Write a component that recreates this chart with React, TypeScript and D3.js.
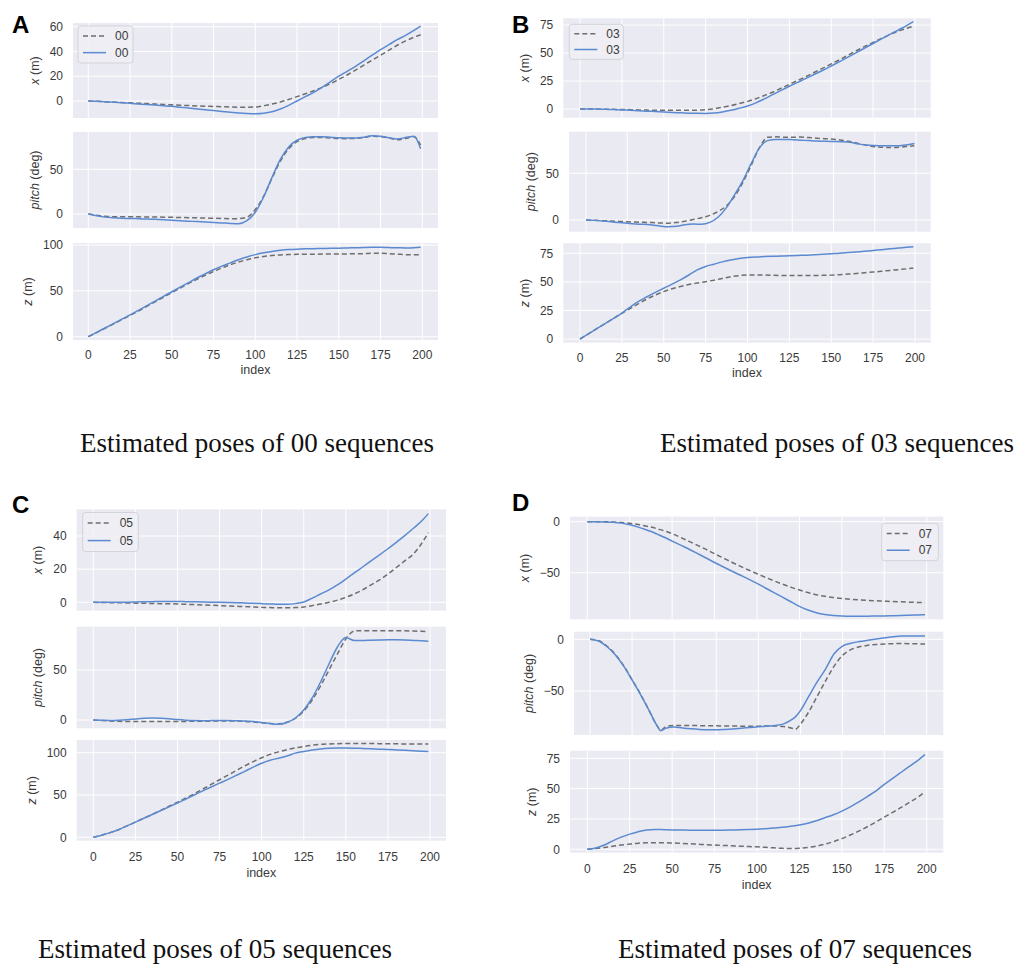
import * as d3 from "d3";

// sample index (frame number) for panels A-C
const idx = [0, 5, 10, 15, 20, 25, 30, 35, 40, 45, 50, 55, 60, 65, 70, 75, 80, 85, 90, 95, 100, 105, 110, 115, 120, 125, 130, 135, 140, 145, 150, 155, 160, 165, 170, 175, 180, 185, 190, 195, 199];
// panel D has two sharper corners, so two extra samples
const idxD = [0, 5, 10, 15, 20, 25, 30, 35, 40, 42, 45, 50, 55, 60, 65, 70, 75, 80, 85, 90, 95, 100, 105, 110, 115, 120, 122, 125, 130, 135, 140, 145, 150, 155, 160, 165, 170, 175, 180, 185, 190, 195, 199];

const xTicks = [0, 25, 50, 75, 100, 125, 150, 175, 200];

// ---- sequence 00 ----
const a_x_gt = [0, -0.3, -0.6, -0.9, -1.2, -1.5, -1.8, -2.1, -2.5, -2.8, -3.1, -3.4, -3.7, -4.0, -4.2, -4.4, -4.6, -4.8, -5.0, -5.0, -4.8, -3.8, -2.5, -0.8, 1.2, 3.5, 5.8, 8.3, 11, 14, 17.5, 21, 25, 29, 33, 37, 41, 45, 48.5, 51.5, 53.5];
const a_x_est = [0, -0.3, -0.6, -1, -1.4, -1.9, -2.4, -2.9, -3.3, -3.8, -4.3, -5, -5.7, -6.4, -7.1, -7.7, -8.4, -9, -9.6, -10, -10.2, -9.8, -8.6, -6.5, -3.5, 0, 3.5, 7, 11, 15.5, 20, 24, 28, 32.5, 37, 41.5, 45.5, 49.5, 53, 57, 60.5];
const a_p_gt = [0, -1.5, -2.5, -3, -3, -3, -3.2, -3.3, -3.4, -3.5, -3.7, -3.9, -4.1, -4.3, -4.5, -4.8, -5, -5.2, -5.2, -3.5, 5, 20, 40, 59, 73, 81, 84.5, 85.5, 85.5, 85, 84.5, 84.3, 84.5, 85.5, 87, 86.5, 85, 83, 84.5, 86.5, 77];
const a_p_est = [0, -2, -3.5, -4.3, -4.8, -5, -5.2, -5.5, -6, -6.5, -7, -7.5, -8, -8.5, -9, -9.5, -10, -10.5, -10.8, -7.5, 2, 19, 41, 61, 75, 82.5, 85.5, 86.3, 86.3, 85.8, 85.3, 85, 85, 85.8, 87.5, 87, 85.3, 84, 85.5, 87, 73];
const a_z_gt = [0, 4.5, 9.2, 13.8, 18.5, 23.2, 28, 33, 38, 43, 48, 53, 58, 62.5, 67, 71, 75, 78.5, 81.5, 84, 86, 87.5, 88.5, 89.2, 89.6, 89.8, 90, 90, 90.1, 90.2, 90.2, 90.3, 90.4, 90.5, 91, 91, 90.5, 90, 89.5, 89.3, 89.3];
const a_z_est = [0, 4.7, 9.5, 14.2, 19, 23.8, 28.8, 33.8, 38.8, 44, 49, 54, 59, 64, 68.5, 73, 77, 80.5, 84, 87, 89.5, 91.5, 93, 94.2, 95, 95.5, 95.8, 96, 96.2, 96.4, 96.5, 96.7, 97, 97.3, 97.5, 97.5, 97.2, 97, 96.8, 97, 97.5];

// ---- sequence 03 ----
const b_x_gt = [0, 0, -0.1, -0.2, -0.3, -0.4, -0.6, -0.8, -1, -1.1, -1.2, -1.2, -1.2, -1.1, -1, -0.6, 0.2, 1.5, 3, 4.8, 6.8, 9.2, 12, 15, 18.5, 22, 25.5, 29, 32.8, 36.5, 40.3, 44, 48, 52, 55.8, 59.5, 63, 66.5, 69.5, 72, 74];
const b_x_est = [0, 0, -0.1, -0.3, -0.5, -0.8, -1.1, -1.5, -1.9, -2.3, -2.7, -3.1, -3.4, -3.7, -3.9, -4, -3.6, -2.6, -1.2, 0.6, 2.7, 5.5, 9, 12.8, 16.6, 20.3, 23.8, 27.3, 31, 34.6, 38.4, 42.3, 46.3, 50.3, 54.4, 58.5, 62.6, 66.6, 70.5, 74.5, 78];
const b_p_gt = [0, -0.3, -0.7, -1.1, -1.5, -1.9, -2.2, -2.5, -2.8, -3.2, -3.4, -2.6, -1.2, 0.5, 2.5, 5, 9, 15, 25, 40, 58, 77, 88.5, 89, 88.5, 88.5, 88.8, 88.3, 87.5, 87, 86.4, 85.5, 84, 82, 80, 78.5, 77.8, 77.6, 78, 78.8, 79.5];
const b_p_est = [0, -0.4, -1, -1.8, -2.8, -3.6, -4.3, -4.6, -5.4, -6.6, -7.3, -6.8, -5, -4.4, -4.5, -2.5, 3, 13, 27, 42, 60, 77, 85, 86.3, 86.3, 86, 85.5, 85, 84.5, 84.2, 84, 83.8, 83.2, 81.5, 80.3, 79.8, 79.5, 79.4, 79.6, 80.5, 81.8];
const b_z_gt = [0, 4.5, 9, 13.5, 18, 22.5, 26.8, 31, 35, 38.5, 41.5, 44, 46, 47.7, 49, 50.2, 51.5, 53, 54.5, 55.5, 56, 56.1, 56, 55.8, 55.6, 55.5, 55.5, 55.5, 55.6, 55.7, 55.9, 56.3, 56.8, 57.4, 58, 58.6, 59.3, 60, 60.7, 61.4, 62];
const b_z_est = [0, 4.5, 9, 13.5, 18, 22.7, 28, 33, 37, 40.8, 44.4, 48, 51.8, 56, 60.5, 63.5, 65.5, 67.5, 69.2, 70.5, 71.3, 71.8, 72.1, 72.4, 72.6, 72.8, 73.1, 73.4, 73.8, 74.2, 74.6, 75, 75.6, 76.2, 76.8, 77.5, 78.2, 78.9, 79.6, 80.3, 80.8];

// ---- sequence 05 ----
const c_x_gt = [0, -0.1, -0.2, -0.3, -0.4, -0.5, -0.6, -0.7, -0.8, -0.9, -1, -1.2, -1.4, -1.6, -1.8, -2, -2.2, -2.4, -2.6, -2.8, -3, -3.2, -3.3, -3.3, -3.2, -2.8, -2, -1, 0, 1.3, 3, 5, 7.5, 10.5, 13.5, 17, 21, 25, 29, 35.5, 42];
const c_x_est = [0, 0, 0, 0, 0.1, 0.2, 0.3, 0.4, 0.5, 0.5, 0.5, 0.4, 0.3, 0.2, 0.1, 0, -0.1, -0.2, -0.4, -0.6, -0.8, -1, -1.2, -1.2, -0.8, 0.2, 2.5, 5, 7.5, 10.5, 14, 17.7, 21.3, 25, 28.6, 32.3, 36.2, 40.2, 44.5, 49, 53.5];
const c_p_gt = [0, -0.6, -1, -1.3, -1.5, -1.6, -1.6, -1.5, -1.4, -1.4, -1.4, -1.4, -1.3, -1.2, -1.1, -1, -1, -1.1, -1.4, -2, -2.8, -3.6, -4, -2.2, 1.5, 9, 20, 34, 50, 66, 81, 89, 89.3, 89.3, 89.3, 89.3, 89.3, 89.2, 89, 88.7, 88.3];
const c_p_est = [0, -0.3, -0.5, -0.3, 0.2, 1, 1.8, 2.1, 1.8, 1.2, 0.4, -0.2, -0.6, -0.7, -0.6, -0.5, -0.5, -0.7, -1, -1.6, -2.5, -3.6, -4.3, -2.5, 2, 10, 22, 38, 56, 73, 82.5, 79.5, 79.5, 79.8, 80, 80.2, 80.2, 80, 79.6, 79.2, 78.8];
const c_z_gt = [0, 2.5, 5.5, 9, 13.5, 18, 22.5, 27, 31.8, 36.8, 41.5, 46.5, 51.5, 57, 62.5, 68, 73.5, 79, 84.5, 89.5, 94, 98, 101, 103.5, 105.7, 107.4, 108.8, 109.8, 110.4, 110.7, 110.8, 110.8, 110.8, 110.8, 110.7, 110.6, 110.5, 110.4, 110.4, 110.4, 110.4];
const c_z_est = [0, 2.5, 5.5, 9, 13.5, 18, 22.5, 27, 31.5, 36, 40.5, 45.3, 50, 54.8, 59.5, 64, 68.5, 73.2, 78, 83, 87.5, 91, 93.5, 96, 99.5, 101.5, 103.2, 104.5, 105.3, 105.6, 105.6, 105.4, 105, 104.6, 104.2, 103.8, 103.3, 102.8, 102.3, 101.8, 101.3];

// ---- sequence 07 ----
const d_x_gt = [0, 0, -0.1, -0.3, -0.8, -1.6, -2.8, -4.4, -6.3, -7.3, -8.8, -11.8, -15.5, -19.3, -23.2, -27.2, -31.4, -35.5, -39.6, -43.6, -47.4, -51, -54.6, -58, -61.2, -64.2, -65.4, -67, -69.5, -71.6, -73.2, -74.4, -75.3, -76, -76.6, -77.1, -77.5, -77.9, -78.3, -78.6, -78.9, -79.2, -79.4];
const d_x_est = [0, 0, -0.2, -0.6, -1.4, -3, -5.3, -8.2, -11.3, -12.8, -15, -19, -23, -27, -31.3, -35.6, -40, -44.2, -48.3, -52.3, -56.3, -60.5, -65, -69.5, -74, -78.5, -80.3, -83, -86.5, -89.2, -90.9, -91.9, -92.4, -92.6, -92.6, -92.6, -92.5, -92.4, -92.2, -92, -91.7, -91.4, -91.2];
const d_p_gt = [0, -1.2, -6.5, -14.5, -25.5, -39, -53, -68.5, -84, -88, -84.5, -83.3, -83.3, -83.4, -83.5, -83.6, -83.7, -83.8, -83.9, -84, -84, -84, -83.8, -83.8, -84.3, -86, -87, -82, -70, -55, -40, -26, -15.5, -10, -7.2, -5.8, -5, -4.5, -4.2, -4.1, -4.2, -4.4, -4.6];
const d_p_est = [0, -1.6, -7, -15, -26, -39.5, -53.5, -68.5, -84, -88.4, -86, -84.8, -85.8, -86.6, -87.2, -87.5, -87.5, -87.2, -86.7, -86, -85.3, -84.6, -84, -83.3, -81.8, -77.5, -75, -69, -55, -41, -28.5, -14, -6.5, -3.8, -2.2, -0.9, 0.3, 1.4, 2.5, 3.3, 3.2, 3.1, 3.2];
const d_z_gt = [0, 0.7, 1.5, 2.5, 3.5, 4.3, 5, 5.4, 5.5, 5.5, 5.4, 5.2, 4.9, 4.6, 4.2, 3.8, 3.5, 3.2, 2.9, 2.6, 2.3, 2, 1.6, 1.2, 0.8, 0.6, 0.6, 0.8, 1.5, 2.6, 4.2, 6.3, 8.8, 11.8, 15, 18.6, 22.5, 26.5, 30.5, 34.5, 38.8, 43.2, 47.5];
const d_z_est = [0, 1, 3.5, 7, 10, 12.5, 14.5, 16, 16.3, 16.3, 16.2, 16, 15.9, 15.8, 15.7, 15.6, 15.6, 15.7, 15.9, 16.1, 16.3, 16.6, 17, 17.5, 18.1, 19, 19.4, 20, 21.5, 23.5, 26, 28.5, 31.5, 35, 39, 43.5, 48, 53.5, 58.5, 63.5, 68.5, 73.5, 78];

const BG = "#eaeaf2";
const BLUE = "#5b8ad0";
const GRAY = "#6e6e6e";
const TXT = "#3a3a3a";
const SANS = "'Liberation Sans', Arial, sans-serif";

type Sub = {
  left: number; right: number; top: number; bottom: number;
  x0: number; x200: number;           // pixel of index 0 and 200
  yRef: [number, number, number, number]; // value a, value b, pixel a, pixel b
  ticks: number[];
  label: string;
  gt: number[]; est: number[];
};

type Panel = {
  letter: string; lx: number; ly: number;
  idx: number[];
  subs: Sub[];
  xTickY: number; indexY: number;
  legend: { name: string; x: number; y: number; w: number; h: number };
  caption: { text: string; x: number; y: number };
};

const panels: Panel[] = [
  {
    letter: "A", lx: 12, ly: 33, idx,
    subs: [
      { left: 73, right: 438, top: 23, bottom: 118, x0: 88.3, x200: 422.3, yRef: [0, 60, 101, 26.7], ticks: [0, 20, 40, 60], label: "x", gt: a_x_gt, est: a_x_est },
      { left: 73, right: 438, top: 132, bottom: 228, x0: 88.3, x200: 422.3, yRef: [0, 50, 214, 169.3], ticks: [0, 50], label: "pitch", gt: a_p_gt, est: a_p_est },
      { left: 73, right: 438, top: 243, bottom: 340, x0: 88.3, x200: 422.3, yRef: [0, 100, 336.7, 245], ticks: [0, 50, 100], label: "z", gt: a_z_gt, est: a_z_est },
    ],
    xTickY: 355, indexY: 370,
    legend: { name: "00", x: 78, y: 26, w: 55, h: 37 },
    caption: { text: "Estimated poses of 00 sequences", x: 80, y: 452 },
  },
  {
    letter: "B", lx: 512, ly: 33, idx,
    subs: [
      { left: 563.3, right: 930.7, top: 18.3, bottom: 117.7, x0: 580, x200: 915, yRef: [0, 75, 109, 25], ticks: [0, 25, 50, 75], label: "x", gt: b_x_gt, est: b_x_est },
      { left: 569, right: 930.7, top: 131.7, bottom: 231.7, x0: 586, x200: 916, yRef: [0, 50, 220, 173.3], ticks: [0, 50], label: "pitch", gt: b_p_gt, est: b_p_est },
      { left: 563.3, right: 930.7, top: 243.3, bottom: 342.7, x0: 580, x200: 915, yRef: [0, 75, 339, 253.3], ticks: [0, 25, 50, 75], label: "z", gt: b_z_gt, est: b_z_est },
    ],
    xTickY: 358, indexY: 373,
    legend: { name: "03", x: 569.3, y: 24.3, w: 54, h: 35 },
    caption: { text: "Estimated poses of 03 sequences", x: 660, y: 452 },
  },
  {
    letter: "C", lx: 12, ly: 513, idx,
    subs: [
      { left: 76.7, right: 446, top: 509.3, bottom: 610.7, x0: 93.3, x200: 430, yRef: [0, 40, 602.3, 536], ticks: [0, 20, 40], label: "x", gt: c_x_gt, est: c_x_est },
      { left: 76.7, right: 446, top: 626.7, bottom: 728.3, x0: 93.3, x200: 430, yRef: [0, 50, 720, 670], ticks: [0, 50], label: "pitch", gt: c_p_gt, est: c_p_est },
      { left: 76.7, right: 446, top: 740, bottom: 840.7, x0: 93.3, x200: 430, yRef: [0, 100, 837.3, 752.7], ticks: [0, 50, 100], label: "z", gt: c_z_gt, est: c_z_est },
    ],
    xTickY: 856.7, indexY: 872.7,
    legend: { name: "05", x: 82.7, y: 512.5, w: 55.6, h: 39 },
    caption: { text: "Estimated poses of 05 sequences", x: 38, y: 958 },
  },
  {
    letter: "D", lx: 512, ly: 511, idx: idxD,
    subs: [
      { left: 570, right: 943.3, top: 516.7, bottom: 619.3, x0: 587.3, x200: 926.7, yRef: [0, -50, 521.7, 572.7], ticks: [-50, 0], label: "x", gt: d_x_gt, est: d_x_est },
      { left: 574, right: 943.3, top: 631.7, bottom: 735, x0: 590, x200: 926.7, yRef: [0, -50, 639.3, 691], ticks: [-50, 0], label: "pitch", gt: d_p_gt, est: d_p_est },
      { left: 570, right: 943.3, top: 750.7, bottom: 852.7, x0: 587.3, x200: 926.7, yRef: [0, 75, 849.3, 758.3], ticks: [0, 25, 50, 75], label: "z", gt: d_z_gt, est: d_z_est },
    ],
    xTickY: 868.3, indexY: 885,
    legend: { name: "07", x: 881.7, y: 523.3, w: 56.6, h: 37.4 },
    caption: { text: "Estimated poses of 07 sequences", x: 618, y: 958 },
  },
];

const fmt = (v: number) => (v < 0 ? "\u2212" + Math.abs(v) : String(v));
const textW = (s: string) => s.length * 6.7;

function Subplot({ s, idx, id, showX, xTickY, indexY }: { s: Sub; idx: number[]; id: string; showX: boolean; xTickY: number; indexY: number }) {
  const x = d3.scaleLinear().domain([0, 200]).range([s.x0, s.x200]);
  const y = d3.scaleLinear().domain([s.yRef[0], s.yRef[1]]).range([s.yRef[2], s.yRef[3]]);
  const line = (vals: number[]) =>
    d3.line<number>().x((_, i) => x(idx[i])).y((v) => y(v)).curve(d3.curveMonotoneX)(vals) ?? "";
  const maxW = d3.max(s.ticks, (t) => textW(fmt(t))) ?? 0;
  const labelX = s.left - 10 - maxW - 11;
  const midY = (s.top + s.bottom) / 2;
  const unit = s.label === "pitch" ? " (deg)" : " (m)";
  return (
    <g>
      <defs>
        <clipPath id={id}>
          <rect x={s.left} y={s.top} width={s.right - s.left} height={s.bottom - s.top} />
        </clipPath>
      </defs>
      <rect x={s.left} y={s.top} width={s.right - s.left} height={s.bottom - s.top} fill={BG} />
      {xTicks.map((t) => (
        <line key={"gx" + t} x1={x(t)} x2={x(t)} y1={s.top} y2={s.bottom} stroke="#fff" strokeWidth={1} />
      ))}
      {s.ticks.map((t) => (
        <line key={"gy" + t} x1={s.left} x2={s.right} y1={y(t)} y2={y(t)} stroke="#fff" strokeWidth={1} />
      ))}
      <g clipPath={`url(#${id})`}>
        <path d={line(s.gt)} fill="none" stroke={GRAY} strokeWidth={1.5} strokeDasharray="5,3" />
        <path d={line(s.est)} fill="none" stroke={BLUE} strokeWidth={1.5} />
      </g>
      {s.ticks.map((t) => (
        <text key={"ty" + t} x={s.left - 10} y={y(t)} dy="0.35em" textAnchor="end" fontSize={12} fill={TXT} fontFamily={SANS}>
          {fmt(t)}
        </text>
      ))}
      <text transform={`translate(${labelX},${midY}) rotate(-90)`} textAnchor="middle" fontSize={12.5} fill={TXT} fontFamily={SANS}>
        <tspan fontStyle="italic">{s.label}</tspan>
        {unit}
      </text>
      {showX && (
        <g>
          {xTicks.map((t) => (
            <text key={"tx" + t} x={x(t)} y={xTickY} dy="0.35em" textAnchor="middle" fontSize={12} fill={TXT} fontFamily={SANS}>
              {t}
            </text>
          ))}
          <text x={(s.left + s.right) / 2} y={indexY} dy="0.35em" textAnchor="middle" fontSize={12.5} fill={TXT} fontFamily={SANS}>
            index
          </text>
        </g>
      )}
    </g>
  );
}

function Legend({ l }: { l: Panel["legend"] }) {
  const r1 = l.y + l.h * 0.27;
  const r2 = l.y + l.h * 0.72;
  return (
    <g>
      <rect x={l.x} y={l.y} width={l.w} height={l.h} rx={3} fill="#eeeef4" fillOpacity={0.85} stroke="#d3d3da" strokeWidth={1} />
      <line x1={l.x + 5} x2={l.x + 28} y1={r1} y2={r1} stroke={GRAY} strokeWidth={1.5} strokeDasharray="5,3" />
      <line x1={l.x + 5} x2={l.x + 28} y1={r2} y2={r2} stroke={BLUE} strokeWidth={1.5} />
      <text x={l.x + 37} y={r1} dy="0.35em" fontSize={12} fill={TXT} fontFamily={SANS}>{l.name}</text>
      <text x={l.x + 37} y={r2} dy="0.35em" fontSize={12} fill={TXT} fontFamily={SANS}>{l.name}</text>
    </g>
  );
}

export default function App() {
  return (
    <div style={{ position: "absolute", left: 0, top: 0 }}>
      <svg width={1025} height={972} style={{ display: "block", background: "#fff" }}>
        {panels.map((p, pi) => (
          <g key={p.letter}>
            <text x={p.lx} y={p.ly} fontSize={24} fontWeight="bold" fontFamily={SANS} fill="#000">
              {p.letter}
            </text>
            {p.subs.map((s, si) => (
              <Subplot key={si} s={s} idx={p.idx} id={`clip-${pi}-${si}`} showX={si === 2} xTickY={p.xTickY} indexY={p.indexY} />
            ))}
            <Legend l={p.legend} />
            <text x={p.caption.x} y={p.caption.y} fontSize={27} fontFamily="'Liberation Serif', 'Times New Roman', serif" fill="#111">
              {p.caption.text}
            </text>
          </g>
        ))}
      </svg>
    </div>
  );
}
